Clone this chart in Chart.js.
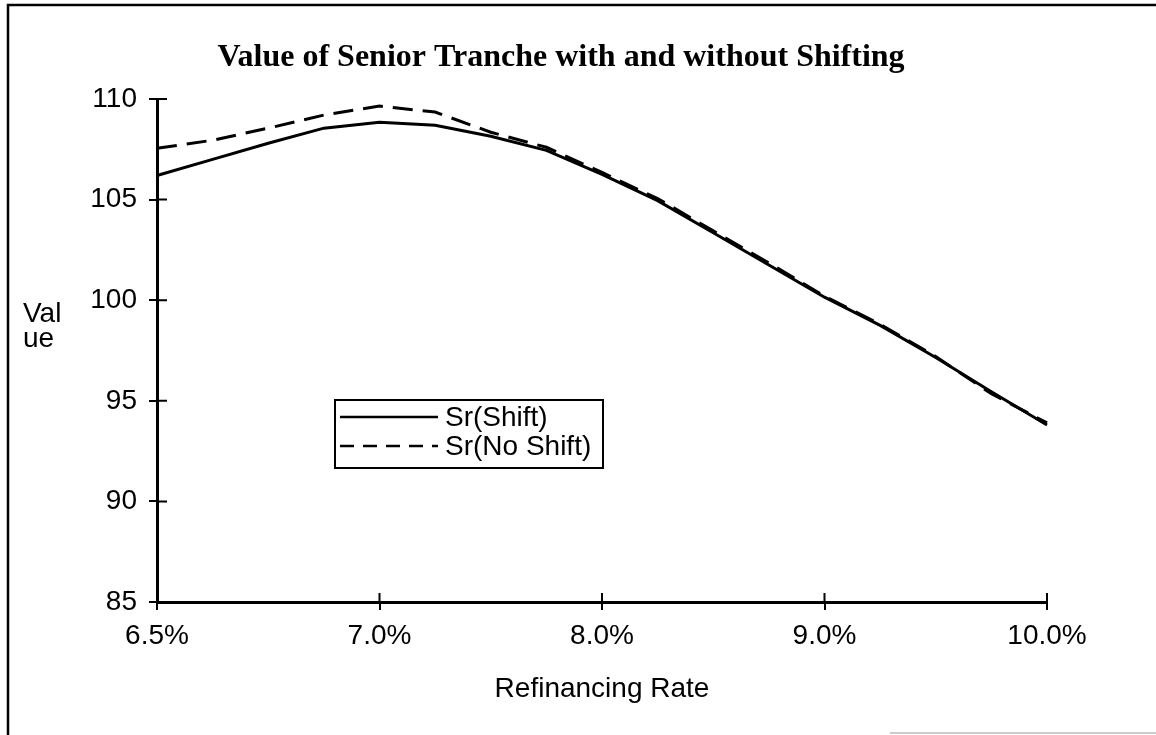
<!DOCTYPE html>
<html>
<head>
<meta charset="utf-8">
<script src="https://cdn.jsdelivr.net/npm/chart.js@4/dist/chart.umd.min.js"></script>
<style>
  html, body { margin: 0; padding: 0; background: #fff; }
  #wrap { width: 1156px; height: 735px; position: relative; }
</style>
</head>
<body>
<div id="wrap"><canvas id="c" width="1156" height="735"></canvas></div>
<script>
// ---- data ----
const categories = [6.5, 6.625, 6.75, 6.875, 7.0, 7.25, 7.5, 7.75, 8.0, 8.25, 8.5, 8.75, 9.0, 9.25, 9.5, 9.75, 10.0];
const labeledTicks = [6.5, 7.0, 8.0, 9.0, 10.0];
const srShift   = [106.2, 107.0, 107.8, 108.55, 108.85, 108.7, 108.15, 107.45, 106.25, 104.95, 103.35, 101.75, 100.15, 98.75, 97.15, 95.45, 93.8];
const srNoShift = [107.55, 107.95, 108.55, 109.2, 109.65, 109.35, 108.35, 107.6, 106.35, 105.05, 103.45, 101.85, 100.2, 98.8, 97.2, 95.35, 93.9];
const seriesNames = ['Sr(Shift)', 'Sr(No Shift)'];
const yMin = 85, yMax = 110, yStep = 5;
const chartTitle = 'Value of Senior Tranche with and without Shifting';
const xTitle = 'Refinancing Rate';
const yTitleLines = ['Val', 'ue'];

const SANS = '"Liberation Sans", Arial, Helvetica, sans-serif';
const SERIF = '"Liberation Serif", "Times New Roman", serif';
const FS = 28;

const decor = {
  id: 'decor',
  beforeDraw(chart) {
    const ctx = chart.ctx;
    ctx.save();
    ctx.fillStyle = '#fff';
    ctx.fillRect(0, 0, chart.width, chart.height);
    // page frame
    ctx.strokeStyle = '#000';
    ctx.lineWidth = 2.5;
    ctx.beginPath();
    ctx.moveTo(8, chart.height);
    ctx.lineTo(8, 5);
    ctx.lineTo(chart.width, 5);
    ctx.stroke();
    ctx.strokeStyle = '#bbb';
    ctx.lineWidth = 1.5;
    ctx.beginPath();
    ctx.moveTo(890, 733);
    ctx.lineTo(chart.width, 733);
    ctx.stroke();
    ctx.restore();
  },
  afterDraw(chart) {
    const ctx = chart.ctx;
    const xs = chart.scales.x, ys = chart.scales.y;
    const area = chart.chartArea;
    ctx.save();
    // inner halves of the crossing tick marks
    ctx.strokeStyle = '#000';
    ctx.lineWidth = 2;
    ctx.beginPath();
    xs.ticks.forEach((t, i) => {
      const px = xs.getPixelForTick(i);
      ctx.moveTo(px, area.bottom);
      ctx.lineTo(px, area.bottom - 9);
    });
    ys.ticks.forEach((t, i) => {
      const py = ys.getPixelForTick(i);
      ctx.moveTo(area.left, py);
      ctx.lineTo(area.left + 10, py);
    });
    ctx.stroke();

    // chart title
    ctx.fillStyle = '#000';
    ctx.font = 'bold 32px ' + SERIF;
    ctx.textAlign = 'center';
    ctx.textBaseline = 'alphabetic';
    ctx.fillText(chartTitle, 561, 66);

    // y axis title (horizontal, wrapped)
    ctx.font = FS + 'px ' + SANS;
    ctx.textAlign = 'left';
    const yc = ys.getPixelForValue(100);
    ctx.fillText(yTitleLines[0], 23, yc + 22);
    ctx.fillText(yTitleLines[1], 23, yc + 47);

    // legend box
    const lx = 335, ly = 400, lw = 268, lh = 68;
    ctx.lineWidth = 2;
    ctx.strokeRect(lx, ly, lw, lh);
    chart.data.datasets.forEach((ds, i) => {
      const cy = ly + 17 + i * 29;
      ctx.save();
      ctx.strokeStyle = ds.borderColor;
      ctx.lineWidth = 2.5;
      ctx.setLineDash(ds.borderDash ? [14, 9] : []);
      ctx.beginPath();
      ctx.moveTo(lx + 5, cy);
      ctx.lineTo(lx + 103, cy);
      ctx.stroke();
      ctx.restore();
      ctx.font = FS + 'px ' + SANS;
      ctx.textBaseline = 'middle';
      ctx.fillStyle = '#000';
      ctx.fillText(ds.label, lx + 110, cy + 1);
    });
    ctx.restore();
  }
};

new Chart(document.getElementById('c'), {
  type: 'line',
  data: {
    labels: categories,
    datasets: [
      { label: seriesNames[0], data: srShift, borderColor: '#000', borderWidth: 3, pointRadius: 0, tension: 0, fill: false },
      { label: seriesNames[1], data: srNoShift, borderColor: '#000', borderWidth: 3, borderDash: [20, 10], pointRadius: 0, tension: 0, fill: false }
    ]
  },
  options: {
    responsive: false,
    animation: false,
    devicePixelRatio: 1,
    layout: { padding: { top: 99, right: 109, left: 0, bottom: 0 } },
    plugins: { legend: { display: false }, title: { display: false }, tooltip: { enabled: false } },
    scales: {
      x: {
        type: 'category',
        offset: false,
        afterBuildTicks(scale) {
          scale.ticks = scale.ticks.filter(t => labeledTicks.includes(categories[t.value]));
        },
        afterFit(scale) { scale.height = 133; },
        ticks: {
          autoSkip: false,
          maxRotation: 0,
          color: '#000',
          padding: 9,
          font: { family: SANS, size: FS },
          callback: v => categories[v].toFixed(1) + '%'
        },
        grid: { display: true, drawOnChartArea: false, drawTicks: true, tickLength: 8, color: '#000', lineWidth: 2 },
        border: { display: true, color: '#000', width: 3 },
        title: { display: true, text: xTitle, color: '#000', font: { family: SANS, size: FS }, padding: { top: 0, bottom: 29 } }
      },
      y: {
        min: yMin, max: yMax,
        afterFit(scale) { scale.width = 157; },
        ticks: {
          stepSize: yStep,
          color: '#000',
          padding: 12,
          font: { family: SANS, size: FS }
        },
        grid: { display: true, drawOnChartArea: false, drawTicks: true, tickLength: 8, color: '#000', lineWidth: 2 },
        border: { display: true, color: '#000', width: 3 }
      }
    }
  },
  plugins: [decor]
});
</script>
</body>
</html>
